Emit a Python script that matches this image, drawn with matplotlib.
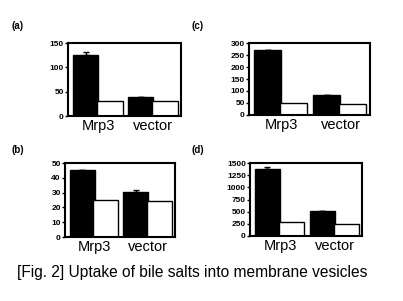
import numpy as np
import matplotlib.pyplot as plt

plt.rcParams['font.family'] = ['Liberation Sans', 'DejaVu Sans']

categorias = ["Mrp3", "vector"]
paneles = ["(a)", "(b)", "(c)", "(d)"]

# black bars (transfected) and white bars (control) for each panel
negro_a = [125, 40]
blanco_a = [30, 30]
err_a = [7, 0]

negro_b = [45, 30.5]
blanco_b = [25, 24]
err_b = [0, 1]

negro_c = [272, 82]
blanco_c = [50, 45]
err_c = [0, 0]

negro_d = [1370, 520]
blanco_d = [280, 250]
err_d = [40, 0]

ymax = [150, 50, 300, 1500]
ypaso = [50, 10, 50, 250]

W, H = 403, 301
fig = plt.figure(figsize=(W / 100, H / 100), dpi=100)


def rect(x0, x1, ytop, ybot):
    return [x0 / W, 1 - ybot / H, (x1 - x0) / W, (ybot - ytop) / H]


cajas = [rect(68, 181, 43, 116), rect(65, 175, 163, 237),
         rect(249, 370, 43, 115), rect(250, 362, 163, 236)]
etiquetas_xy = [(12, 26), (12, 150), (191, 26), (191, 150)]
datos = [(negro_a, blanco_a, err_a), (negro_b, blanco_b, err_b),
         (negro_c, blanco_c, err_c), (negro_d, blanco_d, err_d)]

x = np.arange(len(categorias))
ancho = 0.46

for i in range(4):
    ax = fig.add_axes(cajas[i])
    negro, blanco, err = datos[i]
    yerr = [np.zeros(len(err)), err]
    ax.bar(x - 0.23, negro, ancho, color='black', edgecolor='black', linewidth=1,
           yerr=yerr, error_kw=dict(ecolor='black', elinewidth=1, capsize=2, capthick=1))
    ax.bar(x + 0.21, blanco, ancho, color='white', edgecolor='black', linewidth=1)
    ax.set_xlim(-0.55, 1.5)
    ax.set_ylim(0, ymax[i])
    ax.set_yticks(np.arange(0, ymax[i] + 1, ypaso[i]))
    ax.set_xticks(x)
    ax.set_xticklabels(categorias, fontsize=10.5)
    ax.tick_params(axis='x', length=0, pad=2)
    ax.tick_params(axis='y', length=2, width=1, labelsize=6, pad=1)
    for t in ax.get_yticklabels():
        t.set_fontweight('bold')
    for s in ax.spines.values():
        s.set_linewidth(1.5)
    fig.text(etiquetas_xy[i][0] / W, 1 - etiquetas_xy[i][1] / H, paneles[i],
             fontsize=7, fontweight='bold', va='center', ha='left')

fig.text(17 / W, 1 - 272 / H, "[Fig. 2] Uptake of bile salts into membrane vesicles",
         fontsize=11.2, va='center', ha='left')

fig.savefig("out.png", dpi=100)
